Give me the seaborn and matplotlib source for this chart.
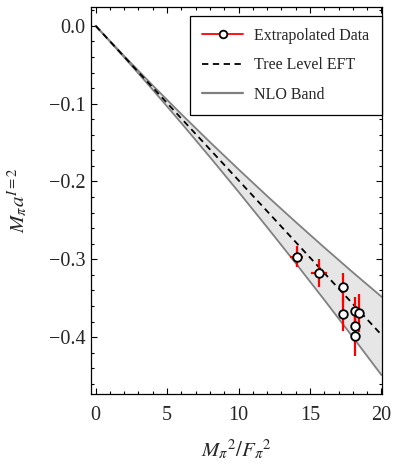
import matplotlib
matplotlib.use("Agg")
import matplotlib.pyplot as plt
import matplotlib.ticker as mticker
from matplotlib.lines import Line2D
import seaborn as sns
import pandas as pd

# ---- data ----
x_data = [14.07, 15.65, 17.33, 17.33, 18.16, 18.40, 18.16, 18.16]
y_data = [-0.2965, -0.3175, -0.336, -0.3706, -0.3663, -0.369, -0.386, -0.3985]
y_err = [0.013, 0.0176, 0.019, 0.022, 0.018, 0.025, 0.02, 0.026]
x_err = [0.44, 0.55, 0.0, 0.0, 0.0, 0.0, 0.0, 0.0]

tree_x = [0.0, 20.0]
tree_y = [0.0, -0.397]

band_x = [0.0, 2.0, 4.0, 6.0, 8.0, 10.0, 12.0, 14.0, 16.0, 18.0, 20.0]
nlo_upper = [0.0, -0.0389, -0.0767, -0.1135, -0.1494, -0.1844, -0.2187,
             -0.2521, -0.2848, -0.3168, -0.348]
nlo_lower = [0.0, -0.0405, -0.0822, -0.1250, -0.1687, -0.2133, -0.2588,
             -0.3050, -0.3521, -0.4000, -0.4486]

x_ticks = [0, 5, 10, 15, 20]
y_ticks = [0.0, -0.1, -0.2, -0.3, -0.4]

sns.set_style("ticks")
plt.rcParams["font.family"] = ["Liberation Serif", "DejaVu Serif"]
plt.rcParams["mathtext.fontset"] = "stix"

fig = plt.figure(figsize=(3.94, 4.65), dpi=100)
ax = fig.add_axes([0.230, 0.1527, 0.740, 0.832])

band = pd.DataFrame({"x": band_x, "upper": nlo_upper, "lower": nlo_lower})
tree = pd.DataFrame({"x": tree_x, "y": tree_y})
ax.fill_between(band["x"], band["lower"], band["upper"], color="#e6e6e6", lw=0, zorder=1)
sns.lineplot(data=band, x="x", y="upper", ax=ax, color="#808080", lw=1.3, zorder=2)
sns.lineplot(data=band, x="x", y="lower", ax=ax, color="#808080", lw=1.3, zorder=2)
sns.lineplot(data=tree, x="x", y="y", ax=ax, color="black", lw=1.3,
             linestyle=(0, (3.5, 2.5)), zorder=3)

pts = pd.DataFrame({"x": x_data, "y": y_data, "xe": x_err, "ye": y_err})
ax.errorbar(pts["x"], pts["y"], yerr=pts["ye"], xerr=pts["xe"], fmt="none",
            ecolor="red", elinewidth=1.6, capsize=0, zorder=4)
sns.scatterplot(data=pts, x="x", y="y", ax=ax, marker="o", s=38, color="white",
                edgecolor="black", linewidth=1.3, zorder=5)

ax.set_xlim(-0.35, 20.05)
ax.set_ylim(-0.473, 0.024)
ax.set_xticks(x_ticks)
ax.set_yticks(y_ticks)
ax.xaxis.set_minor_locator(mticker.MultipleLocator(1))
ax.yaxis.set_minor_locator(mticker.MultipleLocator(0.02))
ax.yaxis.set_major_formatter(mticker.FuncFormatter(lambda v, p: f"{v:.1f}".replace("-", "\u2212")))
ax.tick_params(which="both", direction="in", top=True, right=True, labelsize=14.5,
               color="black", width=0.8)
ax.tick_params(which="major", length=4.5)
ax.tick_params(which="minor", length=2.5)
ax.tick_params(axis="x", pad=9)
for s in ax.spines.values():
    s.set_linewidth(0.9)
    s.set_color("black")

ax.set_xlabel(r"$M_\pi{}^2/F_\pi{}^2$", fontsize=15, labelpad=9)
ax.set_ylabel(r"$M_\pi a^{I=2}$", fontsize=15, labelpad=14)

handles = [
    Line2D([], [], color="red", lw=1.3, marker="o", markersize=5.5,
           markerfacecolor="white", markeredgecolor="black", markeredgewidth=1.3),
    Line2D([], [], color="black", lw=1.3, linestyle=(0, (3.5, 2.5))),
    Line2D([], [], color="#808080", lw=1.6),
]
labels = ["Extrapolated Data", "Tree Level EFT", "NLO Band"]
leg = ax.legend(handles, labels, loc="upper right", bbox_to_anchor=(0.998, 0.978),
                fontsize=11.5, frameon=True, fancybox=False, framealpha=1,
                edgecolor="black", handlelength=2.6, handletextpad=0.7,
                labelspacing=0.85, borderpad=0.75, borderaxespad=0.0)
leg.get_frame().set_linewidth(0.9)

fig.savefig("out.png", dpi=100)
